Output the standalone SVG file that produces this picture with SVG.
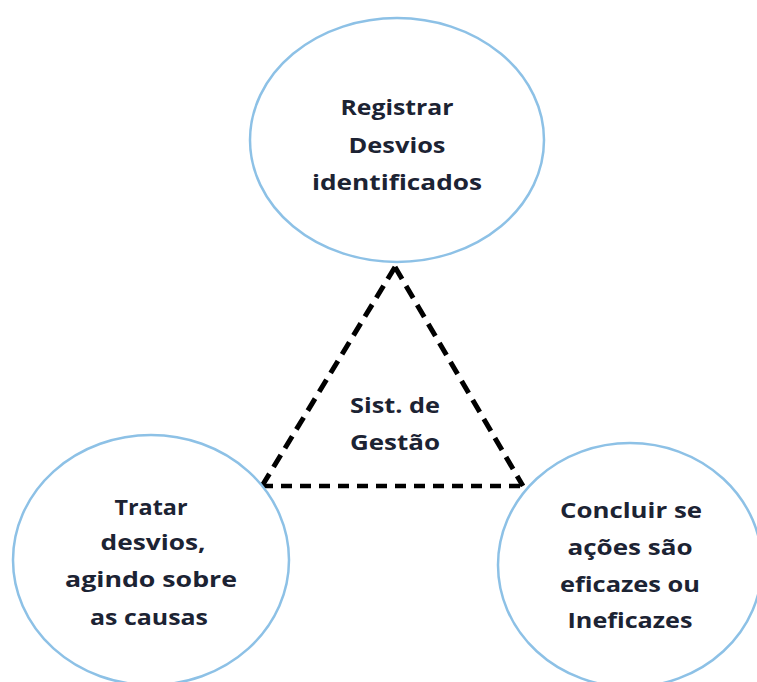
<svg xmlns="http://www.w3.org/2000/svg" width="757" height="682" viewBox="0 0 757 682">
  <style>
    .node ellipse { fill: #ffffff; stroke: #8dc1e6; stroke-width: 2.5; }
    .label { font-family: "Open Sans", "Noto Sans", sans-serif; font-weight: 700; font-size: 22px; fill: #1c2333; text-anchor: middle; }
    .edge { fill: none; stroke: #000000; stroke-width: 5; stroke-linecap: butt; }
    .edge-side { stroke-dasharray: 14 8; }
    .edge-base { stroke-dasharray: 11 8; stroke-width: 4.5; }
  </style>
  <rect width="757" height="682" fill="#ffffff"/>

  <g id="connectors">
    <path class="edge edge-side" d="M 395 267 L 262 486"/>
    <path class="edge edge-side" d="M 395 267 L 523 486"/>
    <path class="edge edge-base" d="M 262 486 L 525 486"/>
  </g>

  <g id="node-registrar" class="node">
    <ellipse cx="397" cy="140" rx="147" ry="122"/>
    <text class="label" x="397" y="115" textLength="113" lengthAdjust="spacingAndGlyphs">Registrar</text>
    <text class="label" x="397" y="153" textLength="97" lengthAdjust="spacingAndGlyphs">Desvios</text>
    <text class="label" x="397" y="190" textLength="170" lengthAdjust="spacingAndGlyphs">identificados</text>
  </g>

  <g id="node-sistema">
    <text class="label" x="395" y="413" textLength="90" lengthAdjust="spacingAndGlyphs">Sist. de</text>
    <text class="label" x="395" y="450" textLength="90" lengthAdjust="spacingAndGlyphs">Gestão</text>
  </g>

  <g id="node-tratar" class="node">
    <ellipse cx="151" cy="560" rx="138" ry="125"/>
    <text class="label" x="151" y="515" textLength="73" lengthAdjust="spacingAndGlyphs">Tratar</text>
    <text class="label" x="153" y="550" textLength="105" lengthAdjust="spacingAndGlyphs">desvios,</text>
    <text class="label" x="151" y="587" textLength="172" lengthAdjust="spacingAndGlyphs">agindo sobre</text>
    <text class="label" x="149" y="625" textLength="118" lengthAdjust="spacingAndGlyphs">as causas</text>
  </g>

  <g id="node-concluir" class="node">
    <ellipse cx="630" cy="565" rx="132" ry="122"/>
    <text class="label" x="631" y="518" textLength="142" lengthAdjust="spacingAndGlyphs">Concluir se</text>
    <text class="label" x="630" y="555" textLength="125" lengthAdjust="spacingAndGlyphs">ações são</text>
    <text class="label" x="630" y="592" textLength="140" lengthAdjust="spacingAndGlyphs">eficazes ou</text>
    <text class="label" x="630" y="628" textLength="125" lengthAdjust="spacingAndGlyphs">Ineficazes</text>
  </g>
</svg>
